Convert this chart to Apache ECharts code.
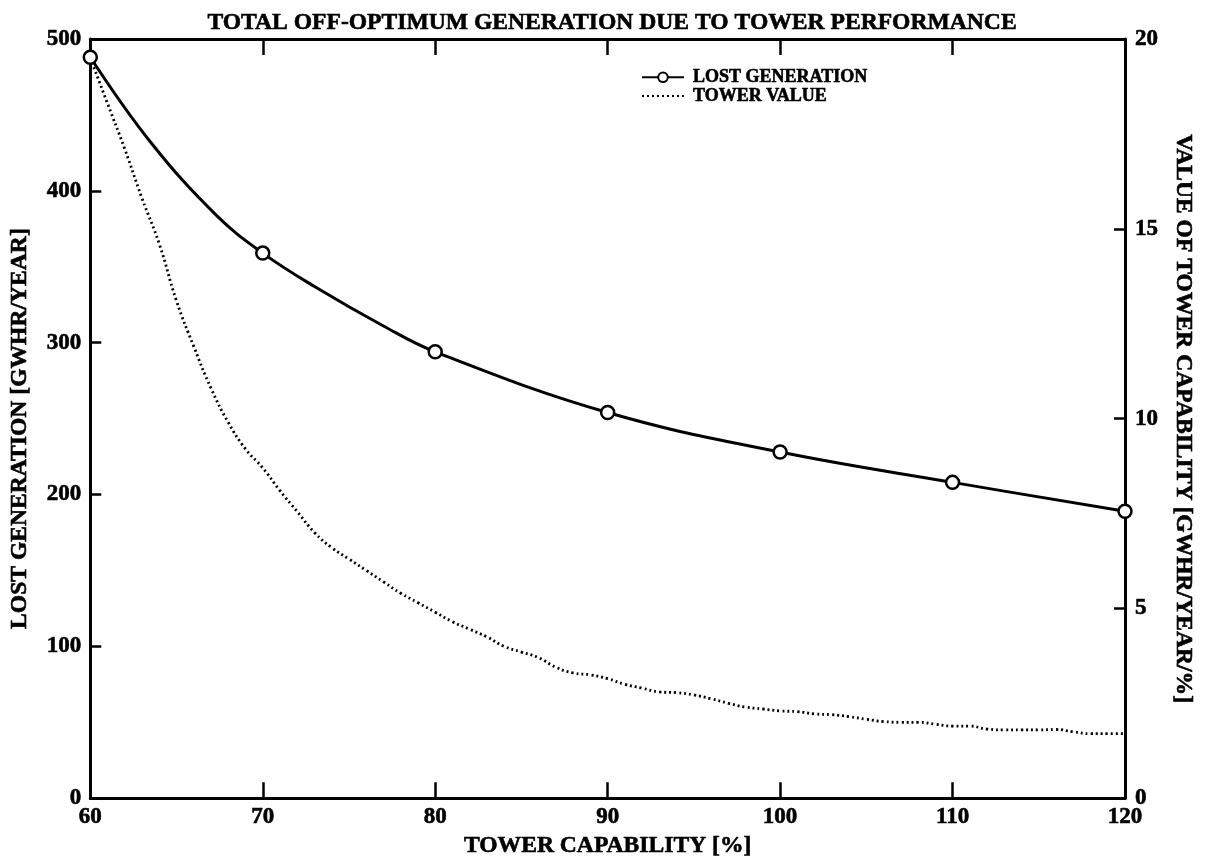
<!DOCTYPE html>
<html>
<head>
<meta charset="utf-8">
<script src="https://cdn.jsdelivr.net/npm/echarts@6/dist/echarts.min.js"></script>
<style>
html,body{margin:0;padding:0;background:#fff;}
#chart{width:1205px;height:863px;}
</style>
</head>
<body>
<div id="chart"></div>
<script>
// ---- data ----
// circles on the LOST GENERATION curve
const lostX = [60, 70, 80, 90, 100, 110, 120];
const lostGeneration = [488, 359, 294, 254, 228, 208, 189];
// extra readings of the solid curve between circles (no marker drawn)
const lostCurveX = [63.5, 67.3, 73, 77];
const lostCurveValue = [432, 384, 337, 311];

const towerX = [60,61,62,63,64,65,66,67,68,69,70,71,72,73,74,75,76,77,78,79,80,
  81,82,83,84,85,86,87,88,89,90,91,92,93,94,95,96,97,98,99,100,
  101,102,103,104,105,106,107,108,109,110,111,112,113,114,115,116,117,118,119,120];
const towerValue = [19.5,18.3,17.1,15.8,14.6,13.1,11.9,10.8,9.9,9.2,8.7,
  8.1,7.55,7.0,6.6,6.3,6.0,5.7,5.4,5.15,4.9,
  4.65,4.45,4.25,4.0,3.85,3.7,3.45,3.3,3.25,3.15,
  3.0,2.9,2.8,2.78,2.72,2.62,2.5,2.4,2.35,2.3,
  2.28,2.22,2.2,2.15,2.08,2.02,2.0,2.0,1.95,1.9,
  1.9,1.82,1.8,1.8,1.8,1.81,1.75,1.7,1.7,1.7];

const titleText = 'TOTAL OFF-OPTIMUM GENERATION DUE TO TOWER PERFORMANCE';
const xName = 'TOWER CAPABILITY [%]';
const yLeftName = 'LOST GENERATION [GWHR/YEAR]';
const yRightName = 'VALUE OF TOWER CAPABILITY [GWHR/YEAR/%]';
const seriesNames = ['LOST GENERATION', 'TOWER VALUE'];

// ---- chart ----
const FONT = '"Liberation Serif", "DejaVu Serif", serif';
const chart = echarts.init(document.getElementById('chart'), null, {renderer: 'canvas'});
const lineCol = '#000';
const heavy = {fontFamily: FONT, fontWeight: 'bold', color: '#000', textBorderColor: '#000', textBorderWidth: 0.6};

// merge marker points and curve readings, sorted by x
const lostData = lostX.map((x, i) => ({value: [x, lostGeneration[i]]}))
  .concat(lostCurveX.map((x, i) => ({value: [x, lostCurveValue[i]], symbol: 'none'})))
  .sort((a, b) => a.value[0] - b.value[0]);

const option = {
  backgroundColor: '#fff',
  animation: false,
  title: {
    text: titleText,
    left: 607, textAlign: 'center', top: 6,
    textStyle: Object.assign({fontSize: 23.6}, heavy)
  },
  legend: {
    orient: 'vertical',
    left: 636, top: 63,
    itemWidth: 42, itemHeight: 12, itemGap: 0,
    textStyle: Object.assign({fontSize: 18, lineHeight: 16, padding: [0, 0, 0, 4]}, heavy),
    data: [
      {name: seriesNames[0]},
      {name: seriesNames[1], itemStyle: {opacity: 0}}
    ]
  },
  grid: {left: 87, right: 80, top: 39, bottom: 54, containLabel: false},
  xAxis: [{
    type: 'value', min: 60, max: 120, interval: 10,
    name: xName, nameLocation: 'middle', nameGap: 34,
    nameTextStyle: Object.assign({fontSize: 23.6}, heavy),
    axisLine: {show: true, onZero: false, lineStyle: {color: lineCol, width: 3}},
    axisTick: {show: true, inside: true, length: 16, lineStyle: {color: lineCol, width: 2.5}},
    axisLabel: Object.assign({fontSize: 23, margin: 7}, heavy),
    splitLine: {show: false}
  }, {
    type: 'value', min: 60, max: 120, interval: 10, position: 'top',
    axisLine: {show: true, onZero: false, lineStyle: {color: lineCol, width: 3}},
    axisTick: {show: true, inside: true, length: 16, lineStyle: {color: lineCol, width: 2.5}},
    axisLabel: {show: false},
    splitLine: {show: false}
  }],
  yAxis: [{
    type: 'value', min: 0, max: 500, interval: 100, position: 'left',
    name: yLeftName, nameLocation: 'middle', nameGap: 58, nameRotate: 90,
    nameTextStyle: Object.assign({fontSize: 23.6, padding: [0, 20, 0, 0]}, heavy),
    axisLine: {show: true, onZero: false, lineStyle: {color: lineCol, width: 3}},
    axisTick: {show: true, inside: true, length: 11, lineStyle: {color: lineCol, width: 2.5}},
    axisLabel: Object.assign({fontSize: 23, margin: 9}, heavy),
    splitLine: {show: false}
  }, {
    type: 'value', min: 0, max: 20, interval: 5, position: 'right',
    name: yRightName, nameLocation: 'middle', nameGap: 46, nameRotate: -90,
    nameTextStyle: Object.assign({fontSize: 23.6}, heavy),
    axisLine: {show: true, onZero: false, lineStyle: {color: lineCol, width: 3}},
    axisTick: {show: true, inside: true, length: 11, lineStyle: {color: lineCol, width: 2.5}},
    axisLabel: Object.assign({fontSize: 23, margin: 10}, heavy),
    splitLine: {show: false}
  }],
  series: [{
    name: seriesNames[0],
    type: 'line',
    xAxisIndex: 0, yAxisIndex: 0,
    data: lostData,
    smooth: 0.4,
    symbol: 'circle', symbolSize: 13, showAllSymbol: true,
    lineStyle: {color: '#000', width: 3},
    itemStyle: {color: '#fff', borderColor: '#000', borderWidth: 2.5},
    z: 3
  }, {
    name: seriesNames[1],
    type: 'line',
    xAxisIndex: 0, yAxisIndex: 1,
    data: towerX.map((x, i) => [x, towerValue[i]]),
    smooth: 0.5,
    showSymbol: false, symbol: 'none',
    lineStyle: {color: '#000', width: 2.8, type: [2, 3]},
    itemStyle: {color: '#000'},
    z: 2
  }]
};
chart.setOption(option);
</script>
</body>
</html>
